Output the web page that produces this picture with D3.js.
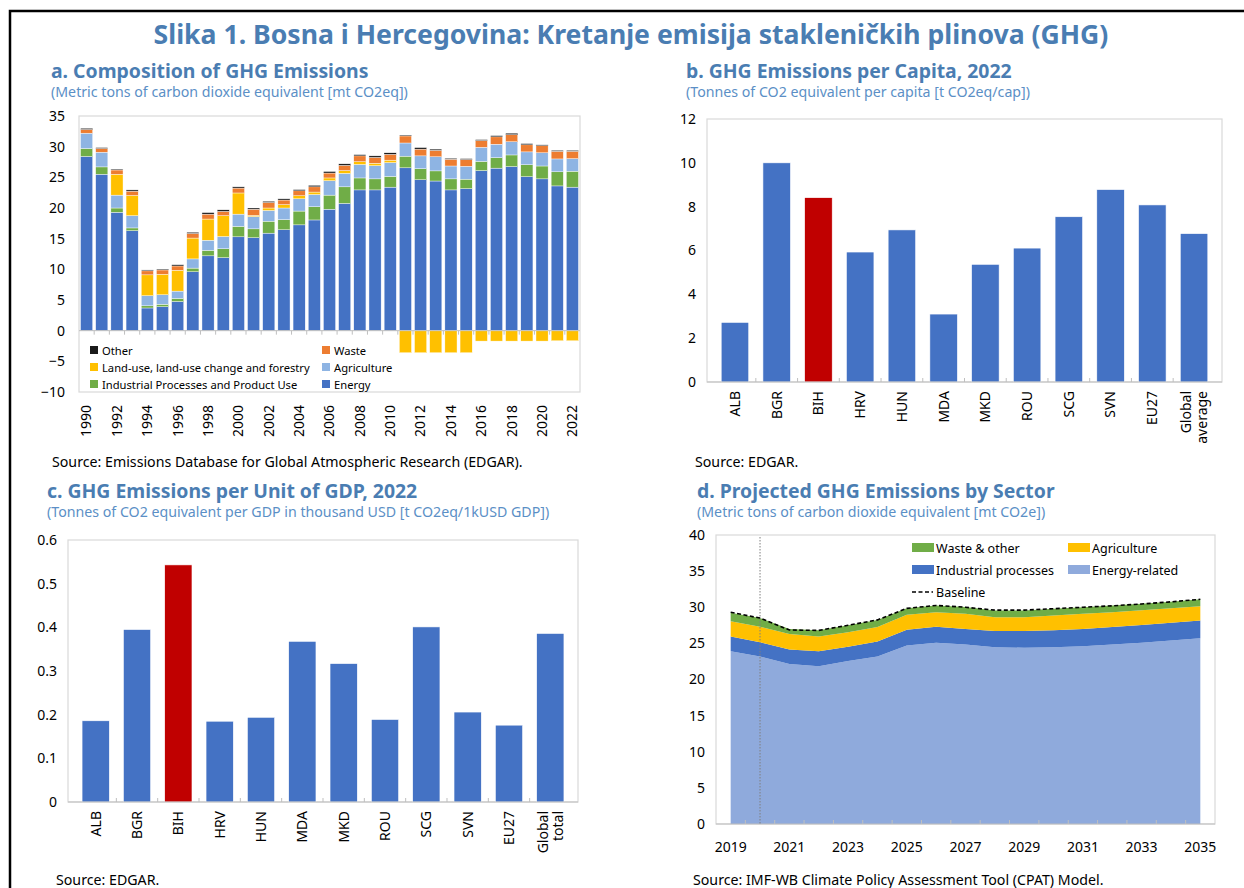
<!DOCTYPE html>
<html>
<head>
<meta charset="utf-8">
<script src="https://cdn.jsdelivr.net/npm/d3@7"></script>
<style>
  body { margin: 0; background: #fff; }
  svg { display: block; font-family: "Noto Sans", sans-serif; }
</style>
</head>
<body>
<svg id="chart"></svg>
<script>
// ---- a. Composition of GHG emissions (mt CO2eq)
const years = d3.range(1990, 2023);
const energy = [28.4, 25.5, 19.3, 16.3, 3.7, 3.9, 4.75, 9.6, 12.2, 11.9, 15.3, 15.15, 15.9, 16.45, 17.25, 18.05, 19.8,
  20.75, 22.95, 22.95, 23.4, 26.55, 24.6, 24.4, 22.95, 23.15, 26.1, 26.5, 26.75, 25.1, 24.75, 23.6, 23.4];
const ippu = [1.3, 1.2, 0.7, 0.45, 0.35, 0.4, 0.5, 0.6, 0.9, 1.45, 1.7, 1.45, 1.95, 1.65, 2.25, 2.15, 2.3,
  2.7, 1.95, 1.8, 1.75, 1.9, 1.8, 1.65, 1.8, 1.55, 1.5, 1.7, 1.9, 1.95, 2.1, 2.3, 2.6];
const agriculture = [2.5, 2.4, 2.1, 2.0, 1.65, 1.55, 1.2, 1.5, 1.65, 2.0, 2.0, 2.0, 1.75, 1.9, 2.0, 2.0, 2.35,
  2.2, 2.2, 2.15, 2.25, 2.15, 2.1, 2.3, 2.1, 2.1, 2.3, 2.2, 2.15, 2.1, 2.15, 2.1, 2.05];
const lulucf = [0, 0, 3.4, 3.3, 3.4, 3.35, 3.4, 3.4, 3.45, 3.4, 3.45, 0.2, 0.4, 0.55, 0.5, 0.4, 0.45,
  0.45, 0.45, 0.4, 0.4, -3.6, -3.6, -3.6, -3.6, -3.6, -1.7, -1.7, -1.7, -1.7, -1.7, -1.65, -1.65];
const waste = [0.6, 0.6, 0.7, 0.7, 0.65, 0.7, 0.7, 0.75, 0.8, 0.7, 0.8, 1.0, 0.9, 0.75, 0.8, 0.85, 0.8,
  0.85, 0.95, 0.95, 0.95, 1.15, 1.1, 1.05, 1.1, 1.1, 1.1, 1.2, 1.15, 1.15, 1.15, 1.25, 1.2];
const other = [0.2, 0.15, 0.15, 0.2, 0.15, 0.15, 0.2, 0.2, 0.25, 0.25, 0.2, 0.2, 0.2, 0.2, 0.2, 0.25, 0.25,
  0.25, 0.2, 0.25, 0.25, 0.15, 0.25, 0.2, 0.15, 0.15, 0.15, 0.2, 0.25, 0.2, 0.15, 0.15, 0.15];
const ticksA = [-10, -5, 0, 5, 10, 15, 20, 25, 30, 35];

// ---- b. / c. country comparisons, 2022
const countriesB = ["ALB", "BGR", "BIH", "HRV", "HUN", "MDA", "MKD", "ROU", "SCG", "SVN", "EU27", "Global\naverage"];
const perCapita = [2.72, 10.0, 8.41, 5.93, 6.94, 3.1, 5.37, 6.11, 7.54, 8.78, 8.08, 6.77];
const countriesC = ["ALB", "BGR", "BIH", "HRV", "HUN", "MDA", "MKD", "ROU", "SCG", "SVN", "EU27", "Global\ntotal"];
const perGdp = [0.186, 0.395, 0.543, 0.185, 0.194, 0.368, 0.317, 0.189, 0.401, 0.206, 0.176, 0.386];
const ticksB = [0, 2, 4, 6, 8, 10, 12];
const ticksC = [0, 0.1, 0.2, 0.3, 0.4, 0.5, 0.6];

// ---- d. Projected emissions by sector (mt CO2e)
const projYears = d3.range(2019, 2036);
const energyRelated = [23.9, 23.2, 22.15, 21.85, 22.55, 23.2, 24.7, 25.1, 24.85, 24.45, 24.4, 24.45, 24.6, 24.85, 25.1, 25.4, 25.7];
const industrial = [2.05, 1.95, 2.0, 2.05, 2.0, 2.05, 2.2, 2.2, 2.15, 2.25, 2.3, 2.35, 2.4, 2.4, 2.45, 2.45, 2.45];
const agri = [2.1, 2.15, 2.15, 2.05, 2.0, 2.0, 2.05, 2.0, 2.1, 1.9, 1.9, 2.05, 2.1, 2.05, 2.05, 2.0, 2.0];
const wasteOther = [1.2, 1.2, 0.7, 0.85, 0.95, 1.0, 0.9, 0.95, 0.95, 0.95, 0.95, 0.95, 0.9, 0.95, 0.9, 0.9, 0.95];
const baseline = [29.3, 28.5, 26.85, 26.8, 27.5, 28.25, 29.85, 30.25, 30.0, 29.6, 29.6, 29.8, 30.0, 30.2, 30.45, 30.75, 31.1];
const ticksD = [0, 5, 10, 15, 20, 25, 30, 35, 40];
const yearLabelsD = [2019, 2021, 2023, 2025, 2027, 2029, 2031, 2033, 2035];

const W = 1244, H = 888;
const titleColor = "#4a7db2", subColor = "#5b8fc6", frameColor = "#d9d9d9";
const blue = "#4472c4", red = "#c00000";

const svg = d3.select("#chart").attr("width", W).attr("height", H);

// outer frame (top + left rule)
svg.append("path").attr("d", `M10,888 V11 H${W}`)
  .attr("fill", "none").attr("stroke", "#000").attr("stroke-width", 2.5);

svg.append("text").attr("x", 631).attr("y", 44).attr("text-anchor", "middle")
  .attr("font-size", 26.6).attr("font-weight", 700).attr("fill", titleColor)
  .text("Slika 1. Bosna i Hercegovina: Kretanje emisija stakleničkih plinova (GHG)");

function heading(x, y, title, sub) {
  svg.append("text").attr("x", x).attr("y", y).attr("font-size", 19.4).attr("font-weight", 700)
    .attr("fill", titleColor).text(title);
  svg.append("text").attr("x", x).attr("y", y + 19).attr("font-size", 14.2)
    .attr("fill", subColor).text(sub);
}
function source(x, y, txt) {
  svg.append("text").attr("x", x).attr("y", y).attr("font-size", 14.2).attr("fill", "#000").text(txt);
}
function plotFrame(x0, x1, y0, y1) {
  svg.append("rect").attr("x", x0).attr("y", y0).attr("width", x1 - x0).attr("height", y1 - y0)
    .attr("fill", "none").attr("stroke", frameColor).attr("stroke-width", 1.2);
}
function yAxis(scale, x, ticks, fmt) {
  const g = svg.append("g").attr("transform", `translate(${x},0)`)
    .call(d3.axisLeft(scale).tickValues(ticks).tickFormat(fmt).tickSize(0).tickPadding(0));
  g.select(".domain").remove();
  g.selectAll("text").attr("font-size", 14).attr("fill", "#000").attr("font-family", "Noto Sans");
}
function rotatedLabels(scale, cats, y, size) {
  svg.append("g").selectAll("text").data(cats).join("text")
    .attr("transform", d => `translate(${scale(d) + scale.bandwidth() / 2},${y}) rotate(-90)`)
    .attr("text-anchor", "end").attr("font-size", size).attr("fill", "#000")
    .each(function(d) {
      const lines = String(d).split("\n");
      const t = d3.select(this);
      lines.forEach((ln, i) => {
        t.append("tspan").attr("x", 0)
          .attr("dy", i === 0 ? (0.35 - (lines.length - 1) * 0.55) + "em" : "1.1em")
          .text(ln);
      });
    });
}

// ================= Panel a =================
heading(51, 78, "a. Composition of GHG Emissions", "(Metric tons of carbon dioxide equivalent [mt CO2eq])");
{
  const x0 = 79, x1 = 580, y0 = 116, y1 = 392;
  const keys = ["energy", "ippu", "agriculture", "lulucf", "waste", "other"];
  const colors = { energy: blue, ippu: "#70ad47", agriculture: "#8eb4e3", lulucf: "#ffc000", waste: "#ed7d31", other: "#1a1a1a" };
  const rows = years.map((yr, i) => ({ year: yr, energy: energy[i], ippu: ippu[i], agriculture: agriculture[i],
    lulucf: lulucf[i], waste: waste[i], other: other[i] }));
  const series = d3.stack().keys(keys).offset(d3.stackOffsetDiverging)(rows);
  const x = d3.scaleBand().domain(years).range([x0, x1]).paddingInner(0.2).paddingOuter(0.1);
  const y = d3.scaleLinear().domain([-10, 35]).range([y1, y0]);

  plotFrame(x0, x1, y0, y1);
  svg.append("g").selectAll("g").data(series).join("g").attr("fill", s => colors[s.key])
    .selectAll("rect").data(s => s).join("rect")
    .attr("x", d => x(d.data.year)).attr("width", x.bandwidth())
    .attr("y", d => y(d[1])).attr("height", d => Math.max(0, y(d[0]) - y(d[1])))
    .attr("stroke", "#fff").attr("stroke-width", 0.4);

  // category axis at zero
  svg.append("line").attr("x1", x0).attr("x2", x1).attr("y1", y(0)).attr("y2", y(0))
    .attr("stroke", "#bfbfbf");
  svg.append("g").selectAll("line").data(years.slice(1)).join("line")
    .attr("x1", d => x(d) - x.step() * x.paddingInner() / 2).attr("x2", d => x(d) - x.step() * x.paddingInner() / 2)
    .attr("y1", y(0)).attr("y2", y(0) + 4).attr("stroke", "#bfbfbf");

  yAxis(y, x0 - 14, ticksA, d3.format("d"));
  rotatedLabels(x, years.filter((d, i) => i % 2 === 0), y1 + 13, 14);

  const legend = [
    ["Other", "other", 0, 0], ["Land-use, land-use change and forestry", "lulucf", 0, 1],
    ["Industrial Processes and Product Use", "ippu", 0, 2],
    ["Waste", "waste", 1, 0], ["Agriculture", "agriculture", 1, 1], ["Energy", "energy", 1, 2]
  ];
  const lg = svg.append("g").selectAll("g").data(legend).join("g")
    .attr("transform", d => `translate(${d[2] ? 322 : 90},${351 + d[3] * 17})`);
  lg.append("rect").attr("x", 0).attr("y", -5).attr("width", 8).attr("height", 8).attr("fill", d => colors[d[1]]);
  lg.append("text").attr("x", 12).attr("y", 4).attr("font-size", 11.2).attr("fill", "#000").text(d => d[0]);
}
source(52, 467, "Source: Emissions Database for Global Atmospheric Research (EDGAR).");

// ================= Panels b and c =================
function barPanel(cats, vals, ticks, fmt, box, labelSize) {
  const { x0, x1, y0, y1, max } = box;
  const x = d3.scaleBand().domain(cats).range([x0, x1]).padding(0.34);
  const y = d3.scaleLinear().domain([0, max]).range([y1, y0]);
  plotFrame(x0, x1, y0, y1);
  svg.append("g").selectAll("rect").data(cats).join("rect")
    .attr("x", d => x(d)).attr("width", x.bandwidth())
    .attr("y", (d, i) => y(vals[i])).attr("height", (d, i) => y(0) - y(vals[i]))
    .attr("fill", d => d === "BIH" ? red : blue)
    .attr("stroke", "#fff").attr("stroke-width", 0.6);
  svg.append("line").attr("x1", x0).attr("x2", x1).attr("y1", y(0)).attr("y2", y(0)).attr("stroke", "#bfbfbf");
  svg.append("g").selectAll("line").data(cats.slice(1)).join("line")
    .attr("x1", d => x(d) - x.step() * x.paddingInner() / 2).attr("x2", d => x(d) - x.step() * x.paddingInner() / 2)
    .attr("y1", y(0) - 4).attr("y2", y(0)).attr("stroke", "#bfbfbf");
  yAxis(y, x0 - 11, ticks, fmt);
  rotatedLabels(x, cats, y1 + 9, labelSize);
}

heading(686, 78, "b. GHG Emissions per Capita, 2022", "(Tonnes of CO2 equivalent per capita [t CO2eq/cap])");
barPanel(countriesB, perCapita, ticksB, d3.format("d"), { x0: 707, x1: 1222, y0: 119, y1: 382, max: 12 }, 14);
source(695, 467, "Source: EDGAR.");

heading(47, 498, "c. GHG Emissions per Unit of GDP, 2022", "(Tonnes of CO2 equivalent per GDP in thousand USD [t CO2eq/1kUSD GDP])");
barPanel(countriesC, perGdp, ticksC, d => d === 0 ? "0" : d3.format(".1f")(d), { x0: 68, x1: 578, y0: 540, y1: 802, max: 0.6 }, 14);
source(56, 885, "Source: EDGAR.");

// ================= Panel d =================
heading(697, 498, "d. Projected GHG Emissions by Sector", "(Metric tons of carbon dioxide equivalent [mt CO2e])");
{
  const x0 = 716, x1 = 1215, y0 = 535, y1 = 824;
  const keys = ["energyRelated", "industrial", "agri", "wasteOther"];
  const colors = { energyRelated: "#8faadc", industrial: blue, agri: "#ffc000", wasteOther: "#70ad47" };
  const rows = projYears.map((yr, i) => ({ year: yr, energyRelated: energyRelated[i], industrial: industrial[i],
    agri: agri[i], wasteOther: wasteOther[i] }));
  const series = d3.stack().keys(keys)(rows);
  const x = d3.scalePoint().domain(projYears).range([x0, x1]).padding(0.5);
  const y = d3.scaleLinear().domain([0, 40]).range([y1, y0]);

  plotFrame(x0, x1, y0, y1);
  svg.append("g").selectAll("path").data(series).join("path")
    .attr("fill", s => colors[s.key])
    .attr("d", d3.area().x(d => x(d.data.year)).y0(d => y(d[0])).y1(d => y(d[1])));

  // category tick marks between years
  svg.append("g").selectAll("line").data(projYears.slice(1)).join("line")
    .attr("x1", d => x(d) - x.step() / 2).attr("x2", d => x(d) - x.step() / 2)
    .attr("y1", y1 - 4).attr("y2", y1).attr("stroke", "#bfbfbf");
  svg.append("line").attr("x1", x0).attr("x2", x1).attr("y1", y1).attr("y2", y1).attr("stroke", "#bfbfbf");

  // vertical marker at 2020
  svg.append("line").attr("x1", x(2020)).attr("x2", x(2020)).attr("y1", y0 + 2).attr("y2", y1)
    .attr("stroke", "#7f7f7f").attr("stroke-width", 1).attr("stroke-dasharray", "1.5,1.5");

  svg.append("path").datum(baseline)
    .attr("fill", "none").attr("stroke", "#000").attr("stroke-width", 1.6).attr("stroke-dasharray", "4,2.5")
    .attr("d", d3.line().x((d, i) => x(projYears[i])).y(d => y(d)));

  yAxis(y, x0 - 11, ticksD, d3.format("d"));
  svg.append("g").selectAll("text").data(yearLabelsD).join("text")
    .attr("x", d => x(d)).attr("y", y1 + 28).attr("text-anchor", "middle")
    .attr("font-size", 14).attr("fill", "#000").text(d => d);

  const legend = [
    ["Waste & other", "wasteOther", 0, 0], ["Agriculture", "agri", 1, 0],
    ["Industrial processes", "industrial", 0, 1], ["Energy-related", "energyRelated", 1, 1]
  ];
  const lg = svg.append("g").selectAll("g").data(legend).join("g")
    .attr("transform", d => `translate(${d[2] ? 1068 : 912},${548 + d[3] * 22})`);
  lg.append("rect").attr("x", 0).attr("y", -5).attr("width", 22).attr("height", 9).attr("fill", d => colors[d[1]]);
  lg.append("text").attr("x", 24).attr("y", 4.5).attr("font-size", 12.5).attr("fill", "#000").text(d => d[0]);
  const bl = svg.append("g").attr("transform", `translate(912,${548 + 44})`);
  bl.append("line").attr("x1", 0).attr("x2", 21).attr("y1", 0).attr("y2", 0)
    .attr("stroke", "#000").attr("stroke-width", 1.6).attr("stroke-dasharray", "4,2.5");
  bl.append("text").attr("x", 24).attr("y", 4.5).attr("font-size", 12.5).attr("fill", "#000").text("Baseline");
}
source(693, 885, "Source: IMF-WB Climate Policy Assessment Tool (CPAT) Model.");
</script>
</body>
</html>
